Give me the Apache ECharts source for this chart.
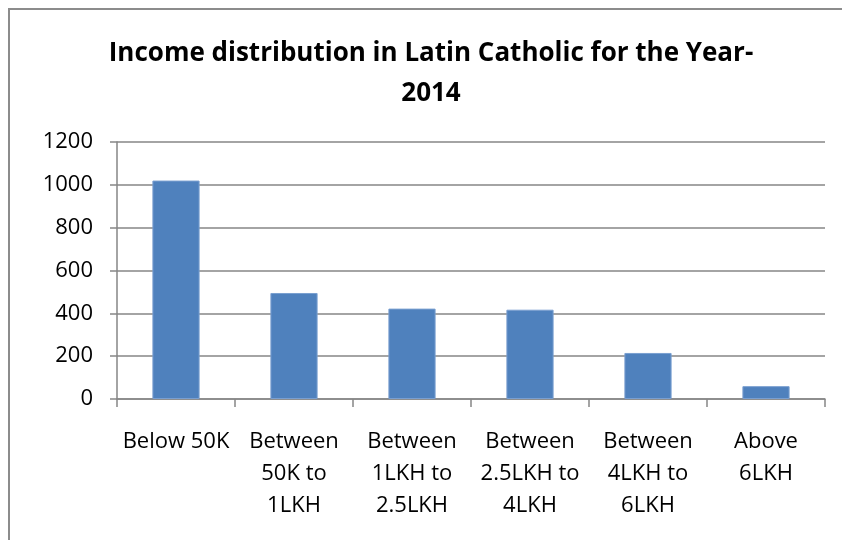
<!DOCTYPE html>
<html>
<head>
<meta charset="utf-8">
<script src="https://cdn.jsdelivr.net/npm/echarts@6/dist/echarts.min.js"></script>
<style>
  html, body { margin: 0; padding: 0; background: #fff; }
  #chart { width: 842px; height: 540px; }
</style>
</head>
<body>
<div id="chart"></div>
<script>
// Income bands (x axis) and number of households in each band
const categories = [
  'Below 50K',
  'Between\n50K to\n1LKH',
  'Between\n1LKH to\n2.5LKH',
  'Between\n2.5LKH to\n4LKH',
  'Between\n4LKH to\n6LKH',
  'Above\n6LKH'
];
const households = [1020, 495, 422, 417, 215, 60];
const yTicks = { min: 0, max: 1200, interval: 200 };

const font = 'Open Sans';
const gridColor = '#868686';

const chart = echarts.init(document.getElementById('chart'), null, { renderer: 'canvas' });
chart.setOption({
  backgroundColor: '#ffffff',
  animation: false,
  title: {
    text: 'Income distribution in Latin Catholic for the Year-\n2014',
    left: 426,
    top: 29,
    textAlign: 'center',
    textStyle: {
      fontFamily: font,
      fontWeight: 'bold',
      fontSize: 26,
      color: '#000',
      lineHeight: 40
    }
  },
  graphic: [{
    type: 'rect',
    shape: { x: 9, y: 9, width: 900, height: 600 },
    style: { fill: 'none', stroke: '#8c8c8c', lineWidth: 2 },
    silent: true
  }],
  grid: { left: 117, right: 17, top: 142, bottom: 141 },
  xAxis: {
    type: 'category',
    data: categories,
    axisLine: { lineStyle: { color: gridColor, width: 1.5 } },
    axisTick: { show: true, length: 8, alignWithLabel: false, lineStyle: { color: gridColor, width: 1.5 } },
    axisLabel: {
      interval: 0,
      margin: 27,
      fontFamily: font,
      fontSize: 22,
      lineHeight: 32,
      color: '#000'
    }
  },
  yAxis: {
    type: 'value',
    min: yTicks.min,
    max: yTicks.max,
    interval: yTicks.interval,
    axisLine: { show: true, lineStyle: { color: gridColor, width: 1.5 } },
    axisTick: { show: true, inside: false, length: 7, lineStyle: { color: gridColor, width: 1.5 } },
    splitLine: { lineStyle: { color: gridColor, width: 1.5 } },
    axisLabel: {
      margin: 24,
      fontFamily: font,
      fontSize: 22,
      color: '#000',
      formatter: v => String(v)
    }
  },
  series: [{
    type: 'bar',
    data: households,
    barWidth: '40%',
    itemStyle: { color: '#4f81bd', borderColor: '#7a9fd0', borderWidth: 1 }
  }]
});
</script>
</body>
</html>
